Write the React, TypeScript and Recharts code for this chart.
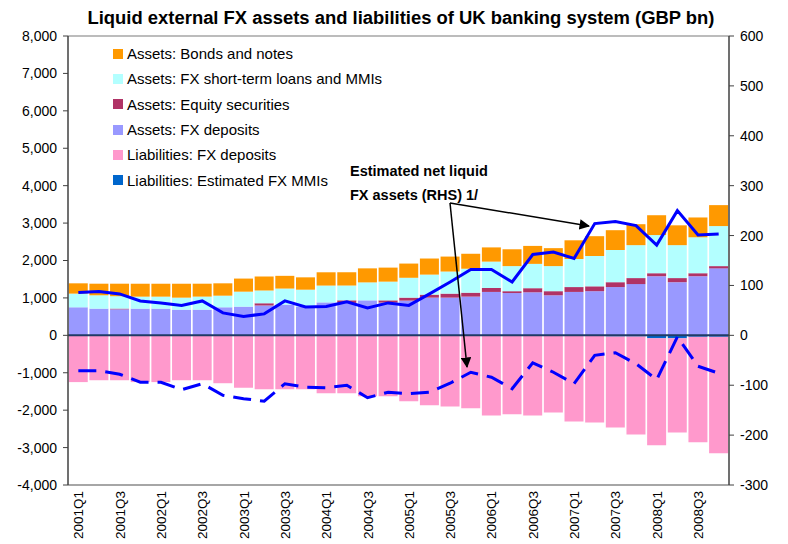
import React from "react";
import { ComposedChart, Bar, Line, XAxis, YAxis, ReferenceLine, Legend } from "recharts";

const FONT = "'Liberation Sans', Arial, sans-serif";

const quarters = [
  "2001Q1", "2001Q2", "2001Q3", "2001Q4",
  "2002Q1", "2002Q2", "2002Q3", "2002Q4",
  "2003Q1", "2003Q2", "2003Q3", "2003Q4",
  "2004Q1", "2004Q2", "2004Q3", "2004Q4",
  "2005Q1", "2005Q2", "2005Q3", "2005Q4",
  "2006Q1", "2006Q2", "2006Q3", "2006Q4",
  "2007Q1", "2007Q2", "2007Q3", "2007Q4",
  "2008Q1", "2008Q2", "2008Q3", "2008Q4",
];

// assets (GBP bn, left axis)
const assetDeposits = [
  750, 714, 695, 714, 714, 687, 687, 750, 767, 800, 820, 770, 880, 866, 935, 875,
  928, 1008, 1008, 1035, 1160, 1130, 1150, 1070, 1160, 1180, 1290, 1370, 1580, 1420, 1580, 1790,
];
const assetEquity = [
  0, 0, 20, 0, 0, 0, 0, 0, 0, 55, 0, 0, 0, 70, 0, 60,
  80, 80, 107, 105, 105, 50, 110, 110, 130, 130, 130, 160, 80, 110, 80, 60,
];
const assetLoans = [
  365, 356, 330, 320, 320, 320, 348, 310, 400, 340, 430, 450, 450, 395, 480, 500,
  530, 535, 590, 640, 705, 670, 650, 670, 750, 810, 860, 880, 1020, 880, 960, 1070,
];
const assetBonds = [
  275, 310, 335, 345, 345, 372, 345, 330, 350, 375, 340, 330, 355, 355, 375, 375,
  380, 430, 400, 400, 380, 450, 480, 480, 500, 530, 530, 560, 530, 530, 530, 560,
];

// liabilities (GBP bn, left axis)
const liabDeposits = [
  -1250, -1200, -1200, -1250, -1250, -1200, -1200, -1280, -1400, -1440, -1440, -1440, -1550, -1550, -1630, -1630,
  -1760, -1870, -1900, -1950, -2140, -2110, -2140, -2060, -2300, -2310, -2430, -2620, -2860, -2520, -2820, -3110,
];
const liabMmis = [
  0, 0, 0, 0, 0, 0, 0, 0, 0, 0, 0, 0, 0, 0, 0, 0,
  0, 0, 0, 0, 0, 0, 0, 0, 0, -20, -30, -30, -80, -80, -40, -40,
];

// estimated net liquid FX assets (GBP bn, right axis)
const netLiquidUpper = [
  86, 88, 83, 69, 65, 60, 69, 45, 38, 43, 69, 57, 58, 67, 55, 65,
  60, 83, 107, 132, 132, 107, 162, 167, 154, 224, 228, 220, 181, 250, 201, 203,
];
const netLiquidLower = [
  -71, -71, -78, -94, -94, -109, -97, -120, -127, -132, -97, -104, -105, -100, -125, -114,
  -117, -114, -96, -74, -84, -107, -55, -74, -97, -40, -35, -57, -89, -3, -62, -76,
];

const leftTicks = [-4000, -3000, -2000, -1000, 0, 1000, 2000, 3000, 4000, 5000, 6000, 7000, 8000];
const rightTicks = [-300, -200, -100, 0, 100, 200, 300, 400, 500, 600];

const data = quarters.map((quarter, i) => ({
  quarter,
  assetDeposits: assetDeposits[i],
  assetEquity: assetEquity[i],
  assetLoans: assetLoans[i],
  assetBonds: assetBonds[i],
  liabMmis: liabMmis[i],
  liabDeposits: liabDeposits[i],
  netLiquidUpper: netLiquidUpper[i],
  netLiquidLower: netLiquidLower[i],
}));

const legendItems = [
  { label: "Assets: Bonds and notes", color: "#FF9900" },
  { label: "Assets: FX short-term loans and MMIs", color: "#B3FFFF" },
  { label: "Assets: Equity securities", color: "#B03366" },
  { label: "Assets: FX deposits", color: "#9999FF" },
  { label: "Liabilities: FX deposits", color: "#FF99CC" },
  { label: "Liabilities: Estimated FX MMIs", color: "#0066CC" },
];

const LegendList = () => (
  <div style={{ fontFamily: FONT, fontSize: 15, color: "#000" }}>
    {legendItems.map((item) => (
      <div key={item.label} style={{ height: 25.3, display: "flex", alignItems: "center" }}>
        <span style={{ width: 10, height: 10, background: item.color, marginRight: 4, display: "inline-block" }} />
        <span style={{ whiteSpace: "nowrap" }}>{item.label}</span>
      </div>
    ))}
  </div>
);

const QuarterTick = ({ x, y, payload }: any) => (
  <text
    x={x}
    y={y}
    dy={5}
    transform={`rotate(-90, ${x}, ${y})`}
    textAnchor="end"
    fontSize={13.5}
    fontFamily={FONT}
    fill="#000"
  >
    {payload.value}
  </text>
);

const fmt = (v: number) => v.toLocaleString("en-US");

export default function App() {
  return (
    <div style={{ position: "absolute", left: 0, top: 0, width: 788, height: 544, background: "#fff" }}>
      <ComposedChart
        width={788}
        height={544}
        data={data}
        stackOffset="sign"
        barCategoryGap={0.75}
        margin={{ top: 36, right: 0, bottom: 0, left: 0 }}
      >
        <XAxis
          dataKey="quarter"
          height={59}
          interval={1}
          tickLine={false}
          tickSize={4}
          tickMargin={2}
          axisLine={{ stroke: "#a6a6a6", strokeWidth: 2 }}
          tick={<QuarterTick />}
        />
        <YAxis
          yAxisId="left"
          width={68}
          domain={[-4000, 8000]}
          ticks={leftTicks}
          tickFormatter={fmt}
          tickSize={5}
          tickMargin={6}
          interval={0}
          axisLine={{ stroke: "#404040", strokeWidth: 1.5 }}
          tickLine={{ stroke: "#404040" }}
          tick={{ fontSize: 14, fill: "#000", fontFamily: FONT }}
        />
        <YAxis
          yAxisId="right"
          orientation="right"
          width={59}
          domain={[-300, 600]}
          ticks={rightTicks}
          tickSize={5}
          tickMargin={6}
          interval={0}
          axisLine={{ stroke: "#404040", strokeWidth: 1.5 }}
          tickLine={{ stroke: "#404040" }}
          tick={{ fontSize: 14, fill: "#000", fontFamily: FONT }}
        />
        <ReferenceLine yAxisId="left" y={8000} stroke="#a6a6a6" strokeWidth={1.5} />
        <Legend
          layout="vertical"
          align="center"
          verticalAlign="middle"
          wrapperStyle={{ left: 113, top: 41, width: 320 }}
          content={() => <LegendList />}
        />

        <Bar yAxisId="left" dataKey="assetDeposits" stackId="s" fill="#9999FF" isAnimationActive={false} />
        <Bar yAxisId="left" dataKey="assetEquity" stackId="s" fill="#B03366" isAnimationActive={false} />
        <Bar yAxisId="left" dataKey="assetLoans" stackId="s" fill="#B3FFFF" isAnimationActive={false} />
        <Bar yAxisId="left" dataKey="assetBonds" stackId="s" fill="#FF9900" isAnimationActive={false} />
        <Bar yAxisId="left" dataKey="liabMmis" stackId="s" fill="#0066CC" isAnimationActive={false} />
        <Bar yAxisId="left" dataKey="liabDeposits" stackId="s" fill="#FF99CC" isAnimationActive={false} />

        <ReferenceLine yAxisId="left" y={0} stroke="#1f3b66" strokeWidth={2} />

        <Line
          yAxisId="right"
          dataKey="netLiquidUpper"
          stroke="#0000FF"
          strokeWidth={3}
          dot={false}
          type="linear"
          isAnimationActive={false}
        />
        <Line
          yAxisId="right"
          dataKey="netLiquidLower"
          stroke="#0000FF"
          strokeWidth={3}
          strokeDasharray="18 9"
          dot={false}
          type="linear"
          isAnimationActive={false}
        />
      </ComposedChart>

      <svg
        width={788}
        height={544}
        style={{ position: "absolute", left: 0, top: 0, pointerEvents: "none" }}
        fontFamily={FONT}
      >
        <defs>
          <marker id="head" viewBox="0 0 10 10" refX="9" refY="5" markerWidth="7" markerHeight="7" orient="auto">
            <path d="M0,0 L10,5 L0,10 z" fill="#000" />
          </marker>
        </defs>
        <text
          x={401}
          y={24}
          textAnchor="middle"
          fontSize={18}
          fontWeight="bold"
          textLength={627}
          lengthAdjust="spacingAndGlyphs"
        >
          Liquid external FX assets and liabilities of UK banking system (GBP bn)
        </text>
        <text x={350} y={176} fontSize={14.5} fontWeight="bold">Estimated net liquid</text>
        <text x={350} y={200} fontSize={14.5} fontWeight="bold">FX assets (RHS) 1/</text>
        <line x1={450} y1={203} x2={589} y2={226} stroke="#000" strokeWidth={1.5} markerEnd="url(#head)" />
        <line x1={450} y1={203} x2={467} y2={367} stroke="#000" strokeWidth={1.5} markerEnd="url(#head)" />
      </svg>
    </div>
  );
}
